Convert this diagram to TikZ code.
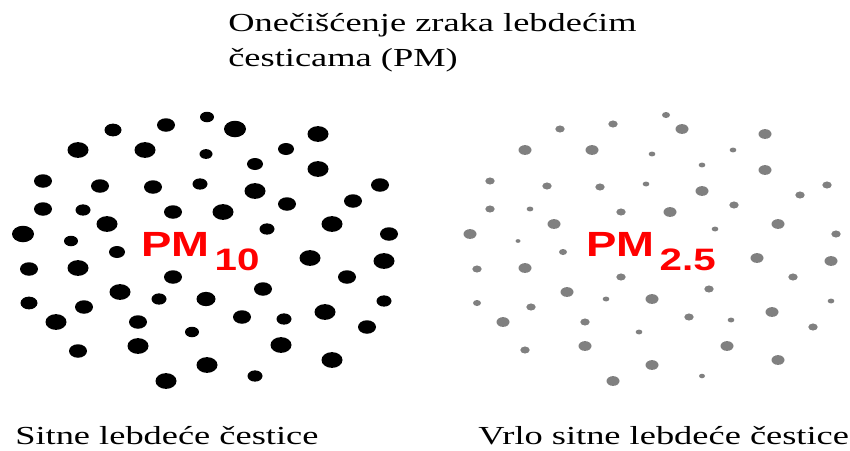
\documentclass[tikz,border=0pt]{standalone}
\usepackage{fontspec}
\setmainfont{Liberation Serif}
\newfontfamily\pmfont{Liberation Sans}

\begin{document}
\begin{tikzpicture}[x=1pt,y=-1pt,
    caption/.style={anchor=base west, inner sep=0pt, font=\fontsize{26}{30}\selectfont, xscale=1.4},
    pmlabel/.style={anchor=base west, inner sep=0pt, text=red, font=\pmfont\bfseries\fontsize{35}{35}\selectfont, xscale=1.3},
    coarsedot/.style={fill=black},
    finedot/.style={fill=black!50}]
    \useasboundingbox (0,0) rectangle (850,450);

    \node[caption] (titleA) at (228,31) {Onečišćenje zraka lebdećim};
    \node[caption] (titleB) at (228,66) {česticama (PM)};

    % PM10 particles
    \foreach \x/\y/\r in {113/130/8.5, 166/125/9, 207/117/7, 78/150/10.5, 145/150/10.5, 206/154/6.5,
        43/181/9, 100/186/9, 153/187/9, 200/184/7.5, 43/209/9, 83/210/7.5, 173/212/9, 107/224/10.5,
        23/234/11, 71/241/7, 235/129/11, 318/134/10.5, 286/149/8, 255/164/8, 318/169/10.5,
        255/191/10.5, 380/185/9, 223/212/10.5, 287/204/9, 353/201/9, 332/224/10.5, 267/229/7.5,
        389/234/9, 117/252/8, 29/269/9, 78/268/10.5, 173/277/9, 120/292/10.5, 159/299/7.5,
        206/299/9.5, 29/303/8.5, 84/307/9, 56/322/10.5, 138/322/9, 192/332/7, 78/351/9,
        138/346/10.5, 207/365/10.5, 166/381/10.5, 310/258/10.5, 384/261/10.5, 347/277/9,
        263/289/9, 384/301/7.5, 242/317/9, 284/319/7.5, 325/312/10.5, 367/327/9, 281/345/10.5,
        332/360/10.5, 255/376/7.5}
        \fill[coarsedot] (\x,\y) ellipse [x radius=\r pt, y radius={0.75*\r pt}];

    % PM2.5 particles
    \foreach \x/\y/\r in {560/129/4.7, 613/124/4.7, 666/115/4, 525/150/6.5, 592/150/6.5, 652/154/3.3,
        490/181/4.7, 547/186/4.7, 600/187/4.7, 646/184/3.3, 490/209/4.7, 530/209/3.3, 621/212/4.7,
        554/224/6.5, 470/234/6.5, 518/241/2.5, 682/129/6.5, 765/134/6.5, 733/150/3.3, 702/165/3.3,
        765/170/6.5, 702/191/6.5, 827/185/4.7, 670/212/6.5, 734/205/4.7, 800/195/4.7, 778/224/6.5,
        715/229/3.3, 836/234/4.7, 563/252/4, 477/269/4.7, 525/268/6.5, 621/277/4.7, 567/292/6.5,
        606/299/3.3, 652/299/6.5, 477/303/4, 531/307/4.7, 503/322/6.5, 585/322/4.7, 639/332/3.3,
        525/350/4.7, 585/346/6.5, 652/365/6.5, 613/381/6.5, 757/258/6.5, 831/261/6.5, 793/277/4.7,
        709/289/4.7, 831/301/3.3, 689/317/4.7, 731/320/3.3, 772/312/6.5, 813/327/4.7, 727/346/6.5,
        778/360/6.5, 702/376/3}
        \fill[finedot] (\x,\y) ellipse [x radius=\r pt, y radius={0.75*\r pt}];

    \node[pmlabel] (pmCoarse) at (141,256) {PM\hspace{4pt}\raisebox{-14pt}{\fontsize{31}{31}\selectfont 10}};
    \node[pmlabel] (pmFine) at (586,256) {PM\hspace{4pt}\raisebox{-14pt}{\fontsize{31}{31}\selectfont 2.5}};

    \node[caption] (labelCoarse) at (15,444) {Sitne lebdeće čestice};
    \node[caption] (labelFine) at (478,444) {Vrlo sitne lebdeće čestice};
\end{tikzpicture}
\end{document}
